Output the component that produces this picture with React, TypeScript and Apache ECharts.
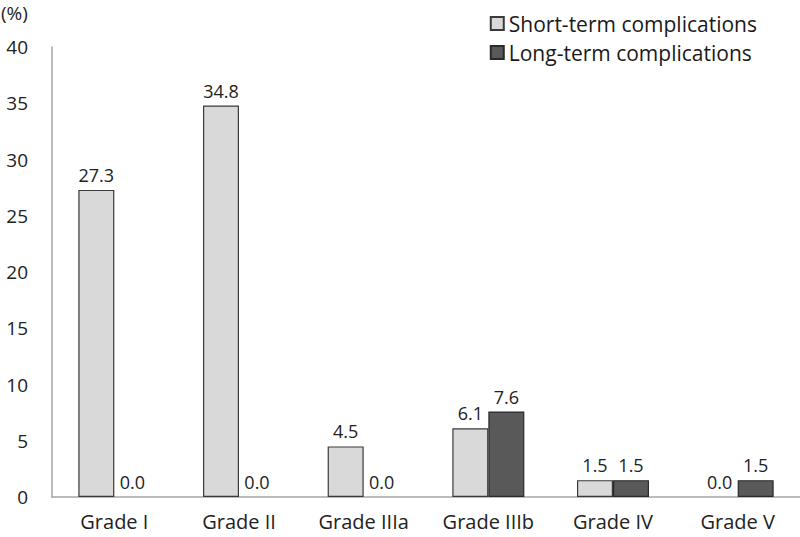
import React, { useEffect, useRef } from "react";
import * as echarts from "echarts";

const categories = ["Grade I", "Grade II", "Grade IIIa", "Grade IIIb", "Grade IV", "Grade V"];
const shortTerm = [27.3, 34.8, 4.5, 6.1, 1.5, 0.0];
const longTerm = [0.0, 0.0, 0.0, 7.6, 1.5, 1.5];
const seriesNames = ["Short-term complications", "Long-term complications"];
const yUnit = "(%)";

const FONT = "'Open Sans', sans-serif";

const toItems = (vals: number[]) =>
  vals.map((v) =>
    v === 0 ? { value: v, itemStyle: { borderWidth: 0, color: "rgba(0,0,0,0)" } } : v
  );

export default function App() {
  const ref = useRef<HTMLDivElement>(null);
  useEffect(() => {
    if (!ref.current) return;
    const chart = echarts.init(ref.current, undefined, { renderer: "svg" });
    const label = {
      show: true,
      position: "top" as const,
      distance: 6,
      color: "#222",
      fontFamily: FONT,
      fontSize: 18,
      formatter: (p: any) => Number(p.value).toFixed(1),
    };
    chart.setOption({
      animation: false,
      backgroundColor: "#fff",
      textStyle: { fontFamily: FONT },
      grid: { left: 52, right: 0, top: 47, bottom: 40, containLabel: false },
      graphic: [
        {
          type: "text",
          left: 1,
          top: 3,
          style: { text: yUnit, fontFamily: FONT, fontSize: 19, fill: "#222" },
        },
      ],
      legend: {
        orient: "vertical",
        right: 38,
        top: 8,
        itemWidth: 13,
        itemHeight: 13,
        itemGap: 8,
        icon: "rect",
        textStyle: { fontFamily: FONT, fontSize: 21, color: "#1a1a1a" },
        data: seriesNames,
      },
      xAxis: {
        type: "category",
        data: categories,
        axisLine: { lineStyle: { color: "#a6a6a6", width: 1.5 } },
        axisTick: { show: false },
        axisLabel: { color: "#222", fontFamily: FONT, fontSize: 20, margin: 14 },
      },
      yAxis: {
        type: "value",
        min: 0,
        max: 40,
        interval: 5,
        splitLine: { show: false },
        axisLine: { show: true, lineStyle: { color: "#a6a6a6", width: 1.5 } },
        axisTick: { show: false },
        axisLabel: { color: "#222", fontFamily: FONT, fontSize: 19, margin: 24 },
      },
      series: [
        {
          name: seriesNames[0],
          type: "bar",
          data: toItems(shortTerm),
          barWidth: 36,
          barGap: "0%",
          itemStyle: { color: "#d9d9d9", borderColor: "#3a3a3a", borderWidth: 1.2 },
          label,
        },
        {
          name: seriesNames[1],
          type: "bar",
          data: toItems(longTerm),
          barWidth: 36,
          barGap: "0%",
          itemStyle: { color: "#595959", borderColor: "#2a2a2a", borderWidth: 1.2 },
          label,
        },
      ],
    });
    return () => chart.dispose();
  }, []);
  return (
    <div
      ref={ref}
      style={{ position: "fixed", left: 0, top: 0, width: 800, height: 537 }}
    />
  );
}
